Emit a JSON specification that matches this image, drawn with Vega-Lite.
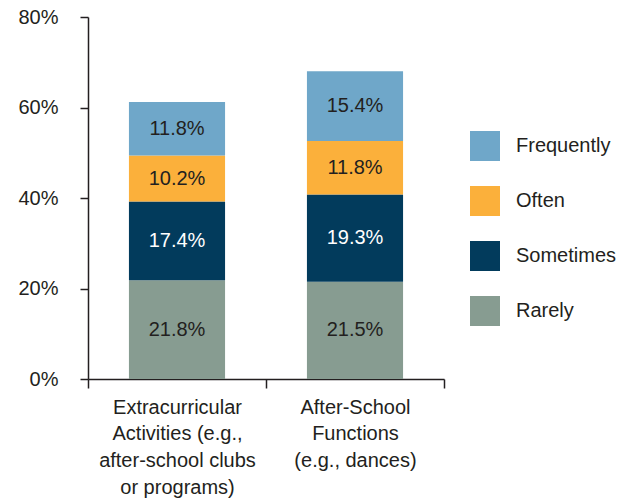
{
  "$schema": "https://vega.github.io/schema/vega-lite/v6.json",
  "width": 356,
  "height": 362,
  "autosize": {"type": "none"},
  "padding": {"left": 88, "top": 17, "right": 183, "bottom": 119},
  "background": "white",
  "config": {
    "view": {"stroke": null},
    "font": "Liberation Sans",
    "axis": {"grid": false, "domainColor": "#231f20", "tickColor": "#231f20", "domainWidth": 1.5, "tickWidth": 1.5, "labelColor": "#231f20", "labelFont": "Liberation Sans", "title": null}
  },
  "data": {
    "values": [
      {"activity": "Extracurricular", "level": "Rarely", "value": 0.218},
      {"activity": "Extracurricular", "level": "Sometimes", "value": 0.174},
      {"activity": "Extracurricular", "level": "Often", "value": 0.102},
      {"activity": "Extracurricular", "level": "Frequently", "value": 0.118},
      {"activity": "After-School", "level": "Rarely", "value": 0.215},
      {"activity": "After-School", "level": "Sometimes", "value": 0.193},
      {"activity": "After-School", "level": "Often", "value": 0.118},
      {"activity": "After-School", "level": "Frequently", "value": 0.154}
    ]
  },
  "transform": [
    {"calculate": "indexof(['Rarely','Sometimes','Often','Frequently'], datum.level)", "as": "rank"},
    {"stack": "value", "groupby": ["activity"], "sort": [{"field": "rank", "order": "ascending"}], "as": ["y0", "y1"]},
    {"calculate": "(datum.y0 + datum.y1) / 2", "as": "mid"}
  ],
  "encoding": {
    "x": {
      "field": "activity",
      "type": "nominal",
      "sort": ["Extracurricular", "After-School"],
      "scale": {"paddingInner": 0, "paddingOuter": 0},
      "axis": {
        "labelAngle": 0,
        "tickBand": "extent",
        "tickSize": 9,
        "labelPadding": 9,
        "labelFontSize": 20,
        "labelLineHeight": 26.7,
        "labelBaseline": "top",
        "labelExpr": "datum.value == 'Extracurricular' ? ['Extracurricular', 'Activities (e.g.,', 'after-school clubs', 'or programs)'] : datum.value == 'After-School' ? ['After-School', 'Functions', '(e.g., dances)'] : ''"
      }
    }
  },
  "layer": [
    {
      "mark": {"type": "bar", "width": {"band": 0.54}},
      "encoding": {
        "y": {
          "field": "y0",
          "type": "quantitative",
          "scale": {"domain": [0, 0.8], "nice": false},
          "axis": {"values": [0, 0.2, 0.4, 0.6, 0.8], "format": ".0%", "tickSize": 8, "labelPadding": 22, "labelFontSize": 20}
        },
        "y2": {"field": "y1"},
        "color": {
          "field": "level",
          "type": "nominal",
          "scale": {
            "domain": ["Frequently", "Often", "Sometimes", "Rarely"],
            "range": ["#6fa7c9", "#fbb03b", "#023b5c", "#879c91"]
          },
          "legend": {
            "title": null,
            "orient": "none",
            "legendX": 382,
            "legendY": 114,
            "padding": 0,
            "symbolType": "square",
            "symbolSize": 900,
            "symbolStrokeWidth": 0,
            "symbolOpacity": 1,
            "rowPadding": 25,
            "labelOffset": 16,
            "labelFontSize": 20,
            "labelColor": "#231f20",
            "labelFont": "Liberation Sans"
          }
        }
      }
    },
    {
      "mark": {"type": "text", "fontSize": 20, "baseline": "middle", "align": "center"},
      "encoding": {
        "y": {"field": "mid", "type": "quantitative"},
        "text": {"field": "value", "type": "quantitative", "format": ".1%"},
        "color": {
          "condition": {"test": "datum.level == 'Sometimes'", "value": "white"},
          "value": "#231f20"
        }
      }
    }
  ]
}
